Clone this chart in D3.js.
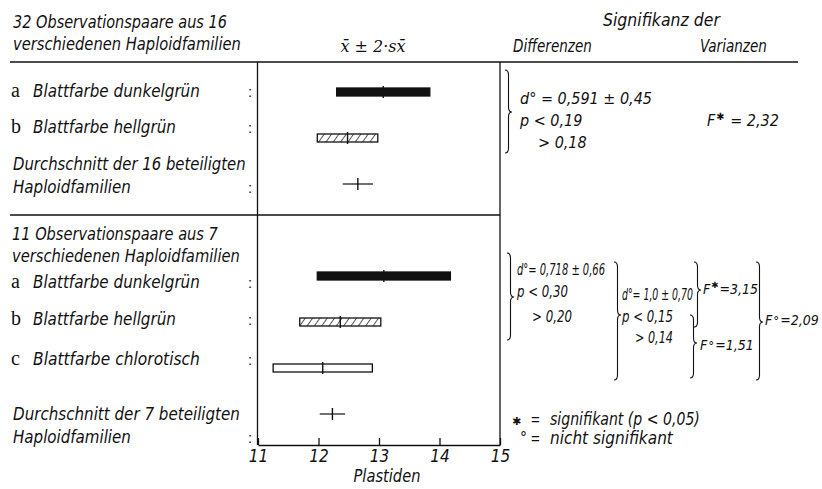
<!DOCTYPE html>
<html>
<head>
<meta charset="utf-8">
<script src="https://cdn.jsdelivr.net/npm/d3@7"></script>
<style>
  body { margin: 0; background: #fff; }
  text { fill: #111; }
  .lbl { font-family: "Liberation Sans Narrow", "DejaVu Sans Condensed", "Liberation Sans", sans-serif; font-style: italic; }
  .ser { font-family: "Liberation Serif", "DejaVu Serif", serif; }
</style>
</head>
<body>
<svg id="chart" width="822" height="489"></svg>
<script>
// Plastiden je Schliesszelle: Mittelwert ± 2·s(x̄), zwei Gruppen von Haploidfamilien
var rowGroup  = [1, 1, 1, 2, 2, 2, 2];
var rowLetter = ["a", "b", "", "a", "b", "c", ""];
var rowKind   = ["dunkelgrün", "hellgrün", "mittel", "dunkelgrün", "hellgrün", "chlorotisch", "mittel"];
var means     = [13.07, 12.48, 12.65, 13.08, 12.36, 12.07, 12.23];
var twoSE     = [0.77, 0.50, 0.25, 1.10, 0.67, 0.82, 0.21];
var rowLabels = [
  ["Blattfarbe dunkelgrün"],
  ["Blattfarbe hellgrün"],
  ["Durchschnitt der 16 beteiligten", "Haploidfamilien"],
  ["Blattfarbe dunkelgrün"],
  ["Blattfarbe hellgrün"],
  ["Blattfarbe chlorotisch"],
  ["Durchschnitt der 7 beteiligten", "Haploidfamilien"]
];
var groupTitles = [
  ["32 Observationspaare aus 16", "verschiedenen Haploidfamilien"],
  ["11 Observationspaare aus 7", "verschiedenen Haploidfamilien"]
];
var xTicks = [11, 12, 13, 14, 15];

// Signifikanz
var diffG1   = ["d° = 0,591 ± 0,45", "p < 0,19", "> 0,18"];
var varG1    = ["F", "✱", " = 2,32"];
var diffG2ab = ["d°= 0,718 ± 0,66", "p < 0,30", "> 0,20"];
var diffG2ac = ["d°= 1,0 ± 0,70", "p < 0,15", "> 0,14"];
var varG2    = [["F", "✱", "=3,15"], ["F", "°", "=1,51"], ["F", "°", "=2,09"]];
var legend   = [["✱", "signifikant (p < 0,05)"], ["°", "nicht signifikant"]];

// layout
var fit = {
  "32 Observationspaare aus 16": 214, "11 Observationspaare aus 7": 206,
  "verschiedenen Haploidfamilien": 228,
  "Blattfarbe dunkelgrün": 167, "Blattfarbe hellgrün": 143, "Blattfarbe chlorotisch": 167,
  "Durchschnitt der 16 beteiligten": 233, "Durchschnitt der 7 beteiligten": 227,
  "Haploidfamilien": 118, "Signifikanz der": 117, "Differenzen": 79, "Varianzen": 67,
  "Plastiden": 67, "signifikant (p < 0,05)": 150, "nicht signifikant": 123,
  "d° = 0,591 ± 0,45": 132,
  "d°= 0,718 ± 0,66": 88, "p < 0,30": 51, "> 0,20": 40,
  "d°= 1,0 ± 0,70": 71, "p < 0,15": 51, "> 0,14": 38
};
var labelDy = [5, -5, -14, 12, 3, -3, 6];
var lineGap = 23;

var svg = d3.select("#chart");
var x = d3.scaleLinear().domain([11, 15]).range([258, 500]);
var slot = function (i) { return i + (rowGroup[i] === 2 ? 1 : 0); };
var y = d3.scaleLinear().domain([0, 7]).range([92, 414]);
var axisY = 445, topY = 62, midY = 215;

var defs = svg.append("defs");
defs.append("pattern")
    .attr("id", "hatch")
    .attr("patternUnits", "userSpaceOnUse")
    .attr("width", 6).attr("height", 6)
    .attr("patternTransform", "rotate(35)")
    .append("line")
    .attr("x1", 0).attr("y1", 0).attr("x2", 0).attr("y2", 6)
    .attr("stroke", "#111").attr("stroke-width", 1.4);

// text squeezed horizontally to the width it has in the drawing
function put(g, str, px, py, cls, size, anchor) {
  var t = g.append("text").attr("class", cls)
      .style("font-size", size + "px").text(str);
  if (anchor) t.attr("text-anchor", anchor);
  if (fit[str]) {
    var w = t.node().getComputedTextLength();
    t.attr("transform", "translate(" + px + "," + py + ") scale(" + (fit[str] / w) + ",1)");
  } else {
    t.attr("x", px).attr("y", py);
  }
  return t;
}

// F with raised mark: one text, mark as a raised tspan
function putF(g, parts, px, py, size) {
  var star = parts[1] === "✱";
  var t = g.append("text").attr("class", "lbl").attr("x", px).attr("y", py)
      .style("font-size", size + "px");
  t.append("tspan").text(parts[0]);
  t.append("tspan").attr("dx", 1).attr("dy", star ? -size * 0.4 : 0)
      .style("font-family", "DejaVu Sans").style("font-style", "normal")
      .style("font-size", (star ? size * 0.62 : size * 0.85) + "px").text(parts[1]);
  t.append("tspan").attr("dx", 1).attr("dy", star ? size * 0.4 : 0).text(parts[2]);
}

function brace(bx, y0, y1, tip, w) {
  var h = w / 2;
  return "M" + bx + "," + y0 +
    " Q" + (bx + h) + "," + y0 + " " + (bx + h) + "," + (y0 + 5) +
    " L" + (bx + h) + "," + (tip - 5) +
    " Q" + (bx + h) + "," + tip + " " + (bx + w) + "," + tip +
    " Q" + (bx + h) + "," + tip + " " + (bx + h) + "," + (tip + 5) +
    " L" + (bx + h) + "," + (y1 - 5) +
    " Q" + (bx + h) + "," + y1 + " " + bx + "," + y1;
}

// rules and frame
var frame = svg.append("g").attr("stroke", "#111").attr("stroke-width", 1.3);
frame.append("line").attr("x1", 10).attr("x2", 798).attr("y1", topY).attr("y2", topY);
frame.append("line").attr("x1", 10).attr("x2", x(15)).attr("y1", midY).attr("y2", midY);
frame.append("line").attr("x1", x(11) - 0.5).attr("x2", x(11) - 0.5).attr("y1", topY).attr("y2", axisY);
frame.append("line").attr("x1", x(15)).attr("x2", x(15)).attr("y1", topY).attr("y2", axisY);

// axis
var ax = svg.append("g").attr("transform", "translate(0," + axisY + ")")
    .call(d3.axisBottom(x).tickValues(xTicks).tickSizeInner(-7).tickSizeOuter(0).tickPadding(5)
      .tickFormat(d3.format("d")));
ax.select(".domain").attr("stroke", "#111").attr("stroke-width", 1.3);
ax.selectAll(".tick line").attr("stroke", "#111").attr("stroke-width", 1.3);
ax.selectAll(".tick text").attr("class", "lbl").style("font-size", "17px").attr("fill", "#111");
put(svg, "Plastiden", 387, 482, "lbl", 18, "middle");

// headers
var head = svg.append("g");
groupTitles[0].forEach(function (s, k) { put(head, s, 13, 28 + k * 22, "lbl", 18); });
groupTitles[1].forEach(function (s, k) { put(head, s, 12, 240 + k * 22, "lbl", 18); });
head.append("text").attr("x", 373).attr("y", 52).attr("text-anchor", "middle")
    .style("font-family", "DejaVu Serif").style("font-style", "italic").style("font-size", "16px")
    .text("x̄ ± 2·sx̄");
put(head, "Signifikanz der", 603, 26, "lbl", 18);
put(head, "Differenzen", 513, 52, "lbl", 18);
put(head, "Varianzen", 700, 52, "lbl", 18);

// row labels
var labs = svg.append("g");
rowLabels.forEach(function (lines, i) {
  var base = y(slot(i)) + labelDy[i];
  if (rowLetter[i]) {
    labs.append("text").attr("class", "ser").attr("x", 11).attr("y", base)
        .style("font-size", "20px").text(rowLetter[i]);
    put(labs, lines[0], 33, base, "lbl", 18);
  } else {
    lines.forEach(function (s, k) { put(labs, s, 13, base + k * lineGap, "lbl", 18); });
  }
  labs.append("text").attr("x", 248).attr("y", base + (lines.length - 1) * lineGap)
      .style("font-family", "Liberation Sans").style("font-size", "15px").text(":");
});

// bars
var marks = svg.append("g").attr("stroke", "#111");
means.forEach(function (m, i) {
  var cy = y(slot(i)), lo = x(m - twoSE[i]), hi = x(m + twoSE[i]);
  if (rowKind[i] === "mittel") {
    marks.append("line").attr("x1", lo).attr("x2", hi).attr("y1", cy).attr("y2", cy)
        .attr("stroke-width", 1.2);
  } else {
    var fill = rowKind[i] === "dunkelgrün" ? "#111" : rowKind[i] === "hellgrün" ? "url(#hatch)" : "#fff";
    marks.append("rect").attr("x", lo).attr("y", cy - 4).attr("width", hi - lo).attr("height", 8)
        .attr("fill", fill).attr("stroke-width", 1.3);
  }
  marks.append("line").attr("x1", x(m)).attr("x2", x(m)).attr("y1", cy - 6).attr("y2", cy + 6)
      .attr("stroke-width", 1.4);
});

// significance: group 1
var sig = svg.append("g");
var br = sig.append("g").attr("fill", "none").attr("stroke", "#111").attr("stroke-width", 1.1);
br.append("path").attr("d", brace(505, y(0) - 22, y(1) + 15, y(0) + 20, 7));
diffG1.forEach(function (s, k) { put(sig, s, k === 2 ? 538 : 520, 104 + k * 22, "lbl", 16); });
putF(sig, varG1, 707, 126, 16);

// significance: group 2
br.append("path").attr("d", brace(507, y(4) - 23, y(5) + 18, y(4) + 21, 7));
br.append("path").attr("d", brace(614, y(4) - 14, y(6) + 12, y(4) + 39, 7));
br.append("path").attr("d", brace(694, y(4) - 14, y(5) + 5, y(4) + 14, 7));
br.append("path").attr("d", brace(690, y(5) - 7, y(6) + 10, y(5) + 21, 7));
br.append("path").attr("d", brace(756, y(4) - 14, y(6) + 12, y(5), 7));
diffG2ab.forEach(function (s, k) { put(sig, s, k === 2 ? 532 : 517, [275, 297, 322][k], "lbl", 16); });
diffG2ac.forEach(function (s, k) { put(sig, s, k === 2 ? 635 : 622, [300, 322, 343][k], "lbl", 16); });
putF(sig, varG2[0], 703, 294, 14);
putF(sig, varG2[1], 700, 350, 14);
putF(sig, varG2[2], 765, 325, 14);

// legend
legend.forEach(function (d, k) {
  var ly = 425 + k * 19;
  sig.append("text").attr("x", d[0] === "✱" ? 512 : 520).attr("y", ly - (d[0] === "✱" ? 0 : 2))
      .style("font-family", "DejaVu Sans").style("font-size", d[0] === "✱" ? "11px" : "14px").text(d[0]);
  sig.append("text").attr("x", 531).attr("y", ly).style("font-family", "Liberation Sans")
      .style("font-size", "15px").text("=");
  put(sig, d[1], 550, ly, "lbl", 18);
});
</script>
</body>
</html>
